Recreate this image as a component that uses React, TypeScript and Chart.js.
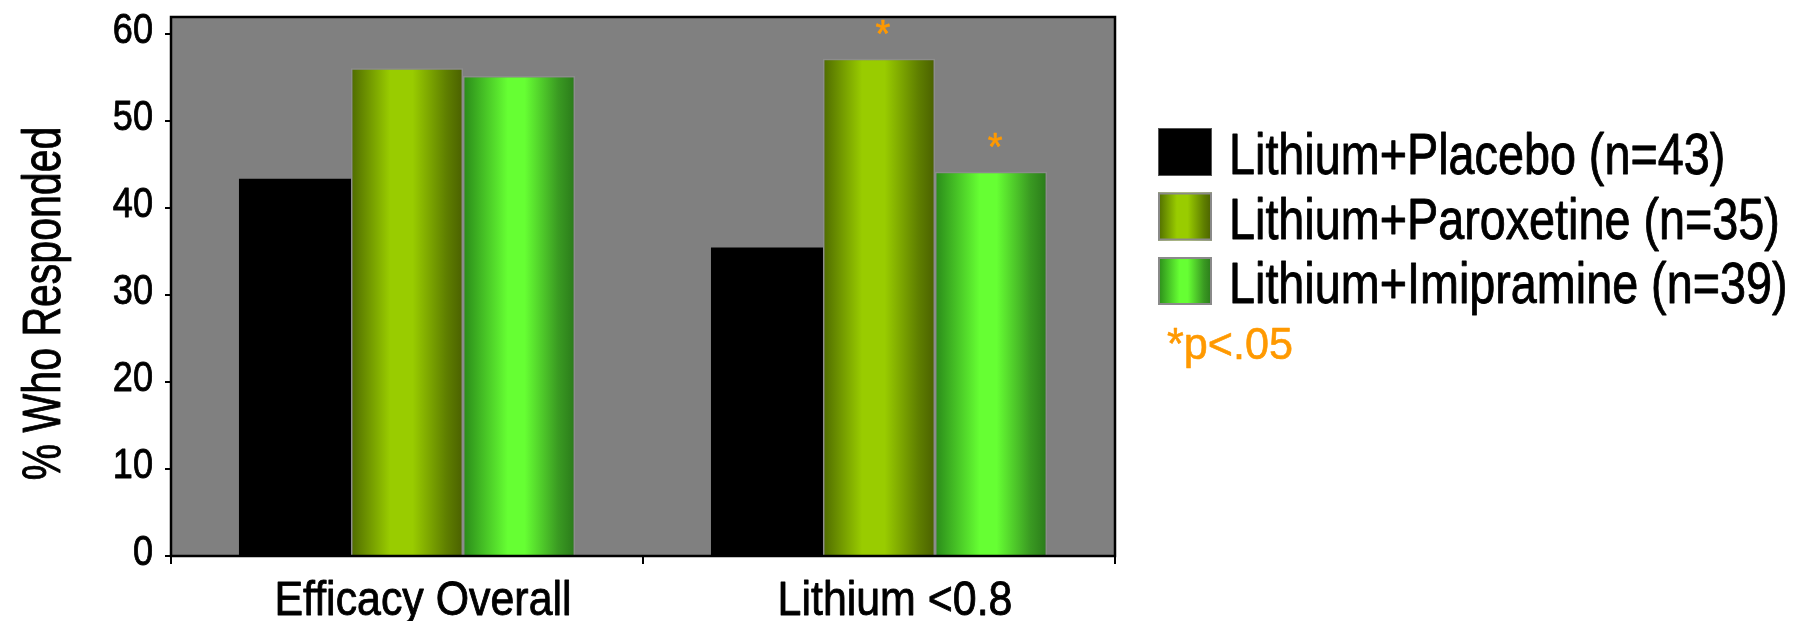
import React, { useEffect, useRef } from 'react';
import { Chart, registerables } from 'chart.js';

Chart.register(...registerables);

// ---- data ----
const categories = ['Efficacy Overall', 'Lithium <0.8'];
const seriesNames = ['Lithium+Placebo (n=43)', 'Lithium+Paroxetine (n=35)', 'Lithium+Imipramine (n=39)'];
const placebo = [43.4, 35.5];
const paroxetine = [56.1, 57.2];
const imipramine = [55.2, 44.2];
const paroxetineSig = [false, true];
const imipramineSig = [false, true];
const yTickValues = [0, 10, 20, 30, 40, 50, 60];
const yTitle = '% Who Responded';
const footnote = '*p<.05';

// ---- styles ----
const FONT = "'Liberation Sans', Arial, sans-serif";
const CONDENSE = 0.82;
const ORANGE = '#ff9900';
const PLOT_BG = '#808080';
const PAROX_STOPS: [number, string][] = [
  [0, '#4f6b00'], [0.35, '#99cc00'], [0.55, '#99cc00'], [0.85, '#5f7f00'], [1, '#4a6000'],
];
const IMIP_STOPS: [number, string][] = [
  [0, '#2a8a1a'], [0.4, '#66ff33'], [0.55, '#66ff33'], [0.85, '#3a9a22'], [1, '#2a7a1a'],
];

function makeGradient(ctx: CanvasRenderingContext2D, x0: number, x1: number, stops: [number, string][]) {
  const g = ctx.createLinearGradient(x0, 0, x1, 0);
  stops.forEach(([o, c]) => g.addColorStop(o, c));
  return g;
}

function drawText(
  ctx: CanvasRenderingContext2D, text: string, x: number, y: number,
  size: number, align: CanvasTextAlign, color: string, sx = CONDENSE, rotate = 0, heavy = 0.9,
) {
  ctx.save();
  ctx.translate(x, y);
  if (rotate) ctx.rotate(rotate);
  ctx.scale(sx, 1);
  ctx.font = `${size}px ${FONT}`;
  ctx.fillStyle = color;
  ctx.textAlign = align;
  ctx.textBaseline = 'alphabetic';
  ctx.fillText(text, 0, 0);
  if (heavy > 0) {
    ctx.strokeStyle = color;
    ctx.lineWidth = heavy;
    ctx.lineJoin = 'round';
    ctx.strokeText(text, 0, 0);
  }
  ctx.restore();
}

const customPlugin = {
  id: 'customDecor',
  beforeDraw(chart: any) {
    const { ctx, chartArea: a } = chart;
    ctx.save();
    ctx.fillStyle = PLOT_BG;
    ctx.fillRect(a.left, a.top, a.right - a.left, a.bottom - a.top);
    ctx.restore();
  },
  beforeDatasetsDraw(chart: any) {
    const { ctx } = chart;
    chart.data.datasets.forEach((ds: any, di: number) => {
      const stops = ds.gradientStops;
      if (!stops) return;
      const meta = chart.getDatasetMeta(di);
      meta.data.forEach((el: any) => {
        const w = el.width;
        el.options = Object.assign({}, el.options, {
          backgroundColor: makeGradient(ctx, el.x - w / 2, el.x + w / 2, stops),
        });
      });
    });
  },
  afterDatasetsDraw(chart: any) {
    const { ctx, chartArea: a } = chart;
    ctx.save();
    ctx.strokeStyle = '#000';
    ctx.lineWidth = 2.5;
    ctx.strokeRect(a.left, a.top, a.right - a.left, a.bottom - a.top);
    ctx.restore();
    // significance asterisks
    chart.data.datasets.forEach((ds: any, di: number) => {
      const sig = ds.sig;
      if (!sig) return;
      const meta = chart.getDatasetMeta(di);
      meta.data.forEach((el: any, i: number) => {
        if (sig[i]) drawText(ctx, '*', el.x + 4, el.y - 12, 38, 'center', ORANGE, 1, 0, 0.6);
      });
    });
  },
  afterDraw(chart: any) {
    const { ctx, chartArea: a } = chart;
    const xs = chart.scales.x;
    const ys = chart.scales.y;
    // y tick labels
    yTickValues.forEach((v) => {
      drawText(ctx, String(v), ys.right - 18, ys.getPixelForValue(v) + 9, 43, 'right', '#000', 0.84);
    });
    // x tick labels
    categories.forEach((c, i) => {
      drawText(ctx, c, xs.getPixelForValue(i) + 16, xs.top + 59, 49, 'center', '#000', 0.875);
    });
    // y title
    drawText(ctx, yTitle, 60, (a.top + a.bottom) / 2 + 17, 54, 'center', '#000', 0.76, -Math.PI / 2);

    // legend
    ctx.save();
    const sx = a.right + 43;
    const tx = a.right + 114;
    chart.data.datasets.forEach((ds: any, i: number) => {
      const top = a.top + 111 + i * 64.5;
      if (ds.gradientStops) {
        ctx.fillStyle = makeGradient(ctx, sx, sx + 54, ds.gradientStops);
        ctx.fillRect(sx, top, 54, 48);
        ctx.strokeStyle = '#8a8a8a';
        ctx.lineWidth = 2;
        ctx.strokeRect(sx + 1, top + 1, 52, 46);
      } else {
        ctx.fillStyle = '#000';
        ctx.fillRect(sx, top, 54, 48);
        ctx.strokeStyle = '#555';
        ctx.lineWidth = 1;
        ctx.strokeRect(sx + 0.5, top + 0.5, 53, 47);
      }
      drawText(ctx, ds.label, tx, a.top + 157 + i * 64.5, 57, 'left', '#000', 0.82);
    });
    ctx.restore();
    drawText(ctx, footnote, a.right + 52, a.top + 342, 44, 'left', ORANGE, 0.98, 0, 0.6);
  },
};

export default function App() {
  const ref = useRef<HTMLCanvasElement>(null);
  useEffect(() => {
    if (!ref.current) return;
    const chart = new Chart(ref.current, {
      type: 'bar',
      data: {
        labels: categories,
        datasets: [
          {
            label: seriesNames[0],
            data: placebo,
            backgroundColor: '#000000',
            borderWidth: 0,
          } as any,
          {
            label: seriesNames[1],
            data: paroxetine,
            backgroundColor: '#99cc00',
            borderColor: '#8c8c8c',
            borderWidth: 1.5,
            gradientStops: PAROX_STOPS,
            sig: paroxetineSig,
          } as any,
          {
            label: seriesNames[2],
            data: imipramine,
            backgroundColor: '#66ff33',
            borderColor: '#8c8c8c',
            borderWidth: 1.5,
            gradientStops: IMIP_STOPS,
            sig: imipramineSig,
          } as any,
        ],
      },
      options: {
        responsive: false,
        animation: false,
        devicePixelRatio: 1,
        categoryPercentage: 0.712,
        barPercentage: 1,
        layout: { padding: { top: 17, right: 690, left: 0, bottom: 0 } },
        plugins: { legend: { display: false }, tooltip: { enabled: false } },
        scales: {
          x: {
            type: 'category',
            offset: true,
            border: { display: false },
            grid: {
              display: true,
              offset: true,
              drawOnChartArea: false,
              drawTicks: true,
              tickLength: 8,
              color: '#000',
              lineWidth: 2,
            },
            ticks: { display: false },
            afterFit: (scale: any) => { scale.height = 65; },
          },
          y: {
            min: 0,
            max: 62,
            border: { display: false },
            grid: {
              drawOnChartArea: false,
              drawTicks: true,
              tickLength: 6,
              color: '#000',
              lineWidth: 2,
            },
            ticks: { display: false, stepSize: 10 },
            afterBuildTicks: (scale: any) => {
              scale.ticks = yTickValues.map((v) => ({ value: v }));
            },
            afterFit: (scale: any) => { scale.width = 171; },
          },
        },
      } as any,
      plugins: [customPlugin],
    });
    return () => chart.destroy();
  }, []);
  return (
    <div style={{ position: 'fixed', left: 0, top: 0, width: 1805, height: 621, background: '#fff' }}>
      <canvas ref={ref} width={1805} height={621} style={{ width: 1805, height: 621, display: 'block' }} />
    </div>
  );
}
